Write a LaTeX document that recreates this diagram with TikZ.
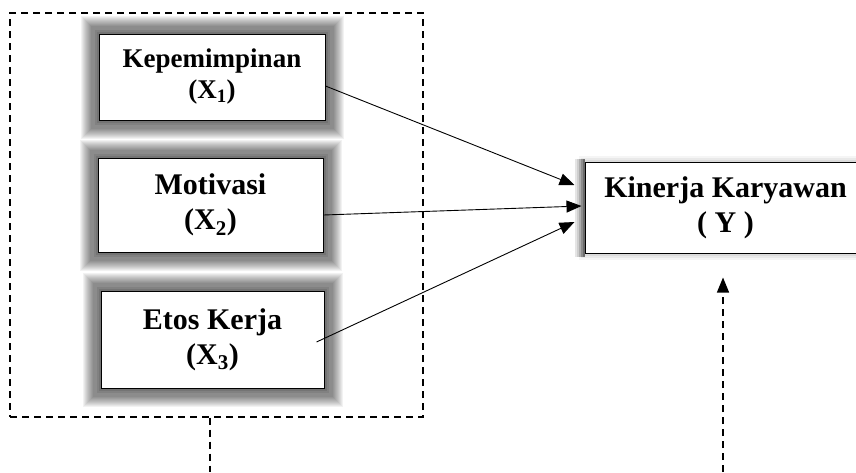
\documentclass[tikz,border=0pt]{standalone}
\usepackage{fontspec}
\setmainfont{Liberation Serif}
\usetikzlibrary{arrows.meta,positioning,calc,backgrounds}
\definecolor{glowgray}{RGB}{0,0,0}

\begin{document}
\begin{tikzpicture}[x=1pt,y=1pt,>={Triangle[length=15pt,width=12pt]},
  every node/.style={font=\bfseries\fontsize{30}{35}\selectfont,align=center},
  varbox/.style={draw,fill=white,line width=1pt,inner sep=0pt},
  grpbox/.style={draw,dash pattern=on 7pt off 5pt,line width=1.2pt},
  dashline/.style={dash pattern=on 7pt off 5pt,line width=1.2pt},
  link/.style={->,line width=0.9pt}]
\useasboundingbox (0,0) rectangle (856,-472);
\clip (0,0) rectangle (856,-472);
\node[varbox,minimum width=226pt,minimum height=86pt,font=\bfseries\fontsize{27}{31}\selectfont] (kep) at (212,-77) {Kepemimpinan\\(X\textsubscript{1})};
\node[varbox,minimum width=225pt,minimum height=94pt] (mot) at (210.5,-205) {Motivasi\\(X\textsubscript{2})};
\node[varbox,minimum width=223pt,minimum height=97pt] (etos) at (212.5,-339.5) {Etos Kerja\\(X\textsubscript{3})};
\node[varbox,minimum width=281pt,minimum height=91pt] (kin) at (725.5,-207.5) {Kinerja Karyawan\\( Y )};
\node[grpbox,minimum width=413pt,minimum height=404pt] (grp) at (216.5,-215) {};
\begin{scope}[on background layer]
\foreach \b in {kep,mot,etos}
  \foreach \r/\o in {18/0.05,17/0.05,16/0.05,15/0.05,14/0.05,13/0.05,12/0.05,11/0.05,10/0.06,9/0.06,8/0.06,4/0.08,2/0.1}
    \fill[glowgray,opacity=\o] ([shift={(-\r,-\r)}]\b.south west) rectangle ([shift={(\r,\r)}]\b.north east);
\foreach \r/\o in {6/0.04,4/0.05,2/0.06}
  \fill[glowgray,opacity=\o] ([shift={(-\r,-\r)}]kin.south west) rectangle ([shift={(\r,\r)}]kin.north east);
\foreach \r/\o in {10/0.1,8/0.1,6/0.12,4/0.15,2/0.2}
  \fill[glowgray,opacity=\o] ([shift={(-\r,-3)}]kin.south west) rectangle ([yshift=3]kin.north west);
\end{scope}
\draw[link] ([yshift=-9]kep.east) -- ([shift={(-10,22.5)}]kin.west);
\draw[link] ([yshift=-10]mot.east) -- ([shift={(-3,1.5)}]kin.west);
\draw[link] ([shift={(-8,-2.5)}]etos.east) -- ([shift={(-10,-14.5)}]kin.west);
\coordinate (gbot) at (210,-472);
\coordinate (ybot) at (723,-472);
\draw[dashline] ([xshift=-6.5]grp.south) -- (gbot);
\draw[dashline,->] (ybot) -- ([shift={(-2.5,-24)}]kin.south);
\end{tikzpicture}
\end{document}
